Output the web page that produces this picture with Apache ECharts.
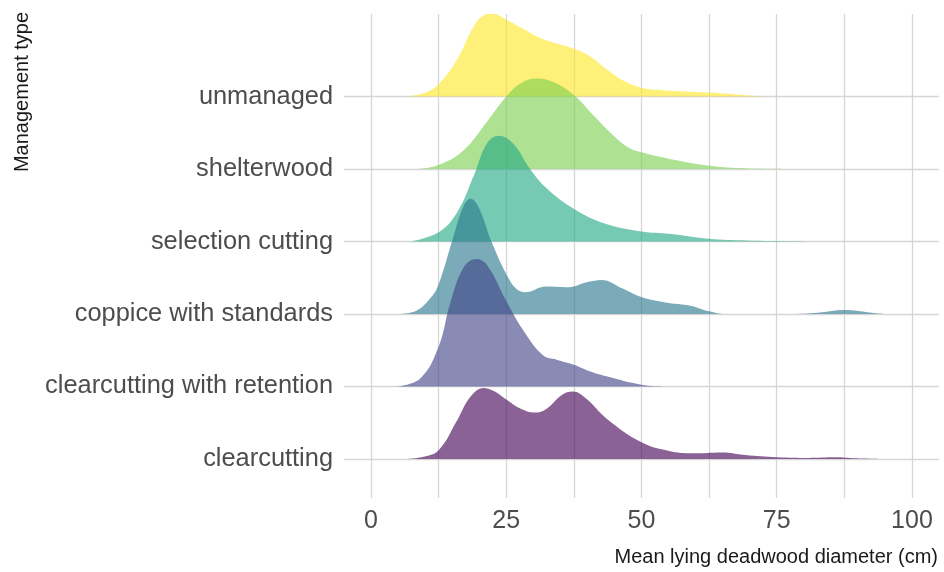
<!DOCTYPE html>
<html>
<head>
<meta charset="utf-8">
<script src="https://cdn.jsdelivr.net/npm/echarts@6/dist/echarts.min.js"></script>
<style>
html,body{margin:0;padding:0;background:#fff;}
#chart{width:944px;height:572px;}
</style>
</head>
<body>
<div id="chart"></div>
<script>
// Categories, bottom to top
const categories = ['clearcutting', 'clearcutting with retention', 'coppice with standards', 'selection cutting', 'shelterwood', 'unmanaged'];
const xTicks = [0, 25, 50, 75, 100];
const xMinorTicks = [0, 12.5, 25, 37.5, 50, 62.5, 75, 87.5, 100];

// Density curves (scaled height above each ridge baseline)
const clearcuttingX = [6.7, 9.7, 12.5, 15.9, 18.3, 20.8, 22.6, 25, 27.5, 30.3, 32.4, 35.2, 37.3, 39.8, 43.5, 50, 55.1, 59.4, 64.9, 69.2, 75, 80.9, 85.8, 89.5, 93.8];
const clearcuttingH = [0, 0.03, 0.12, 0.53, 0.85, 0.98, 0.94, 0.82, 0.70, 0.64, 0.69, 0.88, 0.93, 0.83, 0.56, 0.23, 0.11, 0.078, 0.091, 0.055, 0.023, 0.014, 0.023, 0.009, 0];

const retentionX = [4.8, 9.1, 12.5, 14.6, 17.1, 19.4, 21.4, 25, 28.1, 31.8, 34.3, 37.5, 40.4, 43.5, 50, 53.9];
const retentionH = [0, 0.11, 0.55, 1.14, 1.64, 1.76, 1.68, 1.18, 0.78, 0.43, 0.37, 0.30, 0.21, 0.14, 0.023, 0];

const coppiceX = [5.1, 8.4, 11.1, 12.5, 15.0, 17.0, 18.4, 19.9, 22.2, 25, 26.8, 28.5, 32.3, 36.5, 40, 42.6, 46.5, 50.1, 54.4, 59, 62.5, 65.5, 77.4, 82.6, 87.5, 92.5, 95];
const coppiceH = [0, 0.046, 0.23, 0.41, 1.01, 1.47, 1.59, 1.47, 1.01, 0.55, 0.35, 0.30, 0.38, 0.37, 0.44, 0.47, 0.35, 0.23, 0.16, 0.115, 0.037, 0, 0, 0.018, 0.055, 0.018, 0];

const selectionX = [7.3, 12.5, 15.9, 19.0, 21.4, 23.6, 26.3, 29.4, 32.5, 37.5, 43.5, 50, 55.2, 62.5, 69.3, 78.5, 83];
const selectionH = [0, 0.128, 0.40, 0.91, 1.35, 1.46, 1.35, 1.0, 0.73, 0.45, 0.24, 0.138, 0.106, 0.037, 0.014, 0.004, 0];

const shelterwoodX = [8.5, 12.5, 17.1, 21.4, 25, 27.6, 30.6, 33.7, 37.5, 41.1, 44.7, 47.8, 50, 55.2, 62.5, 69.3, 80];
const shelterwoodH = [0, 0.055, 0.26, 0.65, 1.0, 1.18, 1.25, 1.2, 1.02, 0.74, 0.47, 0.285, 0.23, 0.138, 0.045, 0.01, 0];

const unmanagedX = [6.7, 9.7, 12.5, 15.9, 19.0, 20.8, 22.3, 25, 28.2, 31.8, 37.5, 40.4, 43.5, 46.6, 50, 53.9, 62.5, 69.3, 73];
const unmanagedH = [0, 0.045, 0.17, 0.51, 0.97, 1.12, 1.15, 1.06, 0.93, 0.79, 0.66, 0.56, 0.38, 0.22, 0.12, 0.087, 0.055, 0.018, 0];

const colors = ['#440154', '#414487', '#2A788E', '#22A884', '#7AD151', '#FDE725'];
const groups = [
  [clearcuttingX, clearcuttingH],
  [retentionX, retentionH],
  [coppiceX, coppiceH],
  [selectionX, selectionH],
  [shelterwoodX, shelterwoodH],
  [unmanagedX, unmanagedH]
];

function hexA(hex, a) {
  const r = parseInt(hex.slice(1, 3), 16), g = parseInt(hex.slice(3, 5), 16), b = parseInt(hex.slice(5, 7), 16);
  return 'rgba(' + r + ',' + g + ',' + b + ',' + a + ')';
}

const FONT = '"Liberation Sans", Arial, sans-serif';
const series = [];
// draw top ridge first so lower ridges sit on top
for (let k = categories.length - 1; k >= 0; k--) {
  const xs = groups[k][0], hs = groups[k][1];
  series.push({
    name: categories[k],
    type: 'line',
    smooth: 0.4,
    showSymbol: false,
    symbol: 'none',
    silent: true,
    lineStyle: { width: 0 },
    areaStyle: { origin: k, color: hexA(colors[k], 0.62), opacity: 1 },
    data: xs.map((x, i) => [x, k + hs[i]])
  });
}

const chart = echarts.init(document.getElementById('chart'), null, { renderer: 'canvas' });
chart.setOption({
  animation: false,
  backgroundColor: '#ffffff',
  grid: { left: 344, right: 5, top: 14, bottom: 74 },
  xAxis: {
    type: 'value',
    min: -5,
    max: 105,
    axisLine: { show: false },
    axisTick: { show: false, customValues: xMinorTicks },
    axisLabel: {
      customValues: xTicks,
      fontSize: 25,
      color: '#4D4D4D',
      fontFamily: FONT,
      margin: 11
    },
    splitLine: { show: true, lineStyle: { color: '#d6d6d6', width: 1.3 } }
  },
  yAxis: {
    type: 'value',
    min: -0.538,
    max: 6.138,
    axisLine: { show: false },
    axisTick: { show: false, customValues: [0, 1, 2, 3, 4, 5] },
    axisLabel: {
      customValues: [0, 1, 2, 3, 4, 5],
      formatter: v => categories[Math.round(v)],
      fontSize: 25.4,
      color: '#4D4D4D',
      fontFamily: FONT,
      margin: 11
    },
    splitLine: { show: true, lineStyle: { color: '#d6d6d6', width: 1.3 } }
  },
  graphic: [
    {
      type: 'text', x: 22, y: 92, rotation: Math.PI / 2,
      style: { text: 'Management type', fontSize: 20, fontFamily: FONT, fill: '#1a1a1a',
               textAlign: 'center', textVerticalAlign: 'middle', align: 'center', verticalAlign: 'middle' }
    },
    {
      type: 'text', x: 938, y: 557,
      style: { text: 'Mean lying deadwood diameter (cm)', fontSize: 20, fontFamily: FONT, fill: '#1a1a1a',
               textAlign: 'right', textVerticalAlign: 'middle', align: 'right', verticalAlign: 'middle' }
    }
  ],
  series: series
});
</script>
</body>
</html>
